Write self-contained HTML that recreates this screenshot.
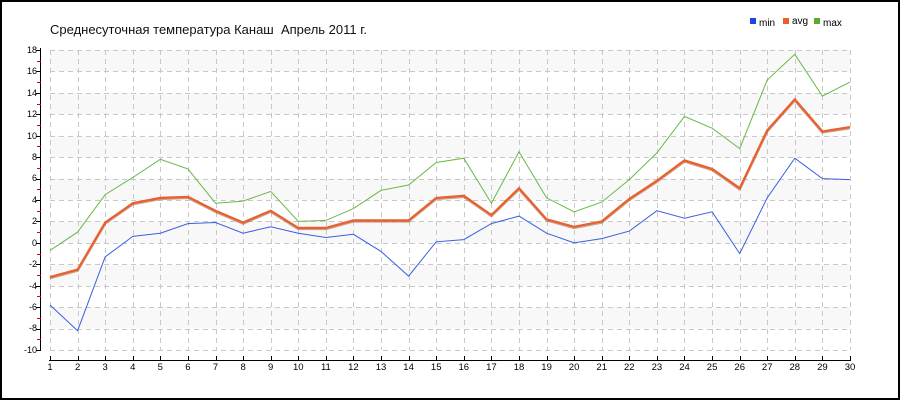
<!DOCTYPE html>
<html><head><meta charset="utf-8"><style>
html,body{margin:0;padding:0;background:#fff}
svg{display:block;font-family:"Liberation Sans","DejaVu Sans",sans-serif}
</style></head><body>
<svg id="s" width="900" height="400" xmlns="http://www.w3.org/2000/svg">
<rect x="1" y="1" width="898" height="398" fill="#fff" stroke="#000" stroke-width="2"/>
<g id="bands"></g>
<g id="grid" stroke="#c8c8c8" stroke-dasharray="5,4" stroke-width="1"></g>
<text x="50" y="34" font-size="13" fill="#111">Среднесуточная температура Канаш&#160; Апрель 2011 г.</text>
<rect x="750" y="18" width="6" height="6" fill="#1f45e0"/><text x="759" y="26" font-size="10">min</text>
<rect x="783" y="18" width="6" height="6" fill="#e8602c"/><text x="792" y="24" font-size="10">avg</text>
<rect x="814" y="18" width="6" height="6" fill="#5aad2c"/><text x="823" y="26" font-size="10">max</text>
<line x1="40.5" y1="48" x2="40.5" y2="351" stroke="#000"/>
<line x1="49" y1="360.5" x2="851" y2="360.5" stroke="#000"/>
<g id="ticks"></g>
<g font-size="9" text-anchor="end" fill="#000">
<text x="37" y="53">18</text><text x="37" y="74">16</text><text x="37" y="96">14</text><text x="37" y="117">12</text><text x="37" y="139">10</text><text x="37" y="160">8</text><text x="37" y="181">6</text><text x="37" y="203">4</text><text x="37" y="224">2</text><text x="37" y="246">0</text><text x="37" y="267">-2</text><text x="37" y="289">-4</text><text x="37" y="310">-6</text><text x="37" y="331">-8</text><text x="37" y="353">-10</text>
</g>
<g font-size="9.5" text-anchor="middle" fill="#000">
<text x="50" y="370">1</text><text x="77.6" y="370">2</text><text x="105.2" y="370">3</text><text x="132.8" y="370">4</text><text x="160.3" y="370">5</text><text x="187.9" y="370">6</text><text x="215.5" y="370">7</text><text x="243.1" y="370">8</text><text x="270.7" y="370">9</text><text x="298.3" y="370">10</text><text x="325.9" y="370">11</text><text x="353.4" y="370">12</text><text x="381" y="370">13</text><text x="408.6" y="370">14</text><text x="436.2" y="370">15</text><text x="463.8" y="370">16</text><text x="491.4" y="370">17</text><text x="519" y="370">18</text><text x="546.6" y="370">19</text><text x="574.1" y="370">20</text><text x="601.7" y="370">21</text><text x="629.3" y="370">22</text><text x="656.9" y="370">23</text><text x="684.5" y="370">24</text><text x="712.1" y="370">25</text><text x="739.7" y="370">26</text><text x="767.2" y="370">27</text><text x="794.8" y="370">28</text><text x="822.4" y="370">29</text><text x="850" y="370">30</text>
</g>
<polyline id="pmax" fill="none" stroke="#6ab845" stroke-width="1"/>
<polyline id="pmin" fill="none" stroke="#3b5fe0" stroke-width="1"/>
<polyline id="pavgs" fill="none" stroke="#a04020" stroke-width="2.5" transform="translate(0,1)" opacity="0.5"/>
<polyline id="pavg" fill="none" stroke="#e8602c" stroke-width="2.2"/>
</svg>
<script>
var NS="http://www.w3.org/2000/svg";
function Y(v){return 50+(18-v)*300/28;}
function X(i){return 50+i*800/29;}
function el(p,t,a){var e=document.createElementNS(NS,t);for(var k in a)e.setAttribute(k,a[k]);document.getElementById(p).appendChild(e);}
for(var v=18;v>-10;v-=2){if(((18-v)/2)%2==0)el("bands","rect",{x:50,y:Y(v),width:800,height:Y(v-2)-Y(v),fill:"#f8f8f8"});}
for(var v=18;v>=-10;v-=2){el("grid","line",{x1:50,x2:850,y1:Math.round(Y(v))+.5,y2:Math.round(Y(v))+.5});
 el("ticks","line",{x1:36,x2:41,y1:Math.round(Y(v))+.5,y2:Math.round(Y(v))+.5,stroke:"#000"});
 if(v>-10)el("ticks","line",{x1:37,x2:41,y1:Math.round(Y(v-1))+.5,y2:Math.round(Y(v-1))+.5,stroke:"#e00000"});}
for(var i=0;i<30;i++){var x=Math.round(X(i))+.5;el("grid","line",{x1:x,x2:x,y1:50,y2:350});el("ticks","line",{x1:x,x2:x,y1:356,y2:361,stroke:"#000"});}
var mn=[-5.8,-8.2,-1.3,0.6,0.9,1.8,1.9,0.9,1.5,0.9,0.5,0.8,-0.8,-3.1,0.1,0.3,1.8,2.5,0.9,0,0.4,1.1,3.0,2.3,2.9,-1.0,4.2,7.9,6.0,5.9];
var av=[-3.2,-2.5,1.9,3.7,4.2,4.3,3.0,1.9,3.0,1.4,1.4,2.1,2.1,2.1,4.2,4.4,2.6,5.1,2.2,1.5,2.0,4.1,5.8,7.7,6.9,5.1,10.5,13.4,10.4,10.8];
var mx=[-0.7,1.0,4.5,6.1,7.8,6.9,3.7,3.9,4.8,2.0,2.1,3.2,4.9,5.4,7.5,7.9,3.7,8.5,4.2,2.9,3.8,5.9,8.4,11.8,10.7,8.8,15.2,17.6,13.7,15.0];
function pts(a){return a.map(function(v,i){return X(i).toFixed(1)+","+Y(v).toFixed(1)}).join(" ");}
document.getElementById("pmin").setAttribute("points",pts(mn));
document.getElementById("pmax").setAttribute("points",pts(mx));
document.getElementById("pavg").setAttribute("points",pts(av));
document.getElementById("pavgs").setAttribute("points",pts(av));
</script>
</body></html>
